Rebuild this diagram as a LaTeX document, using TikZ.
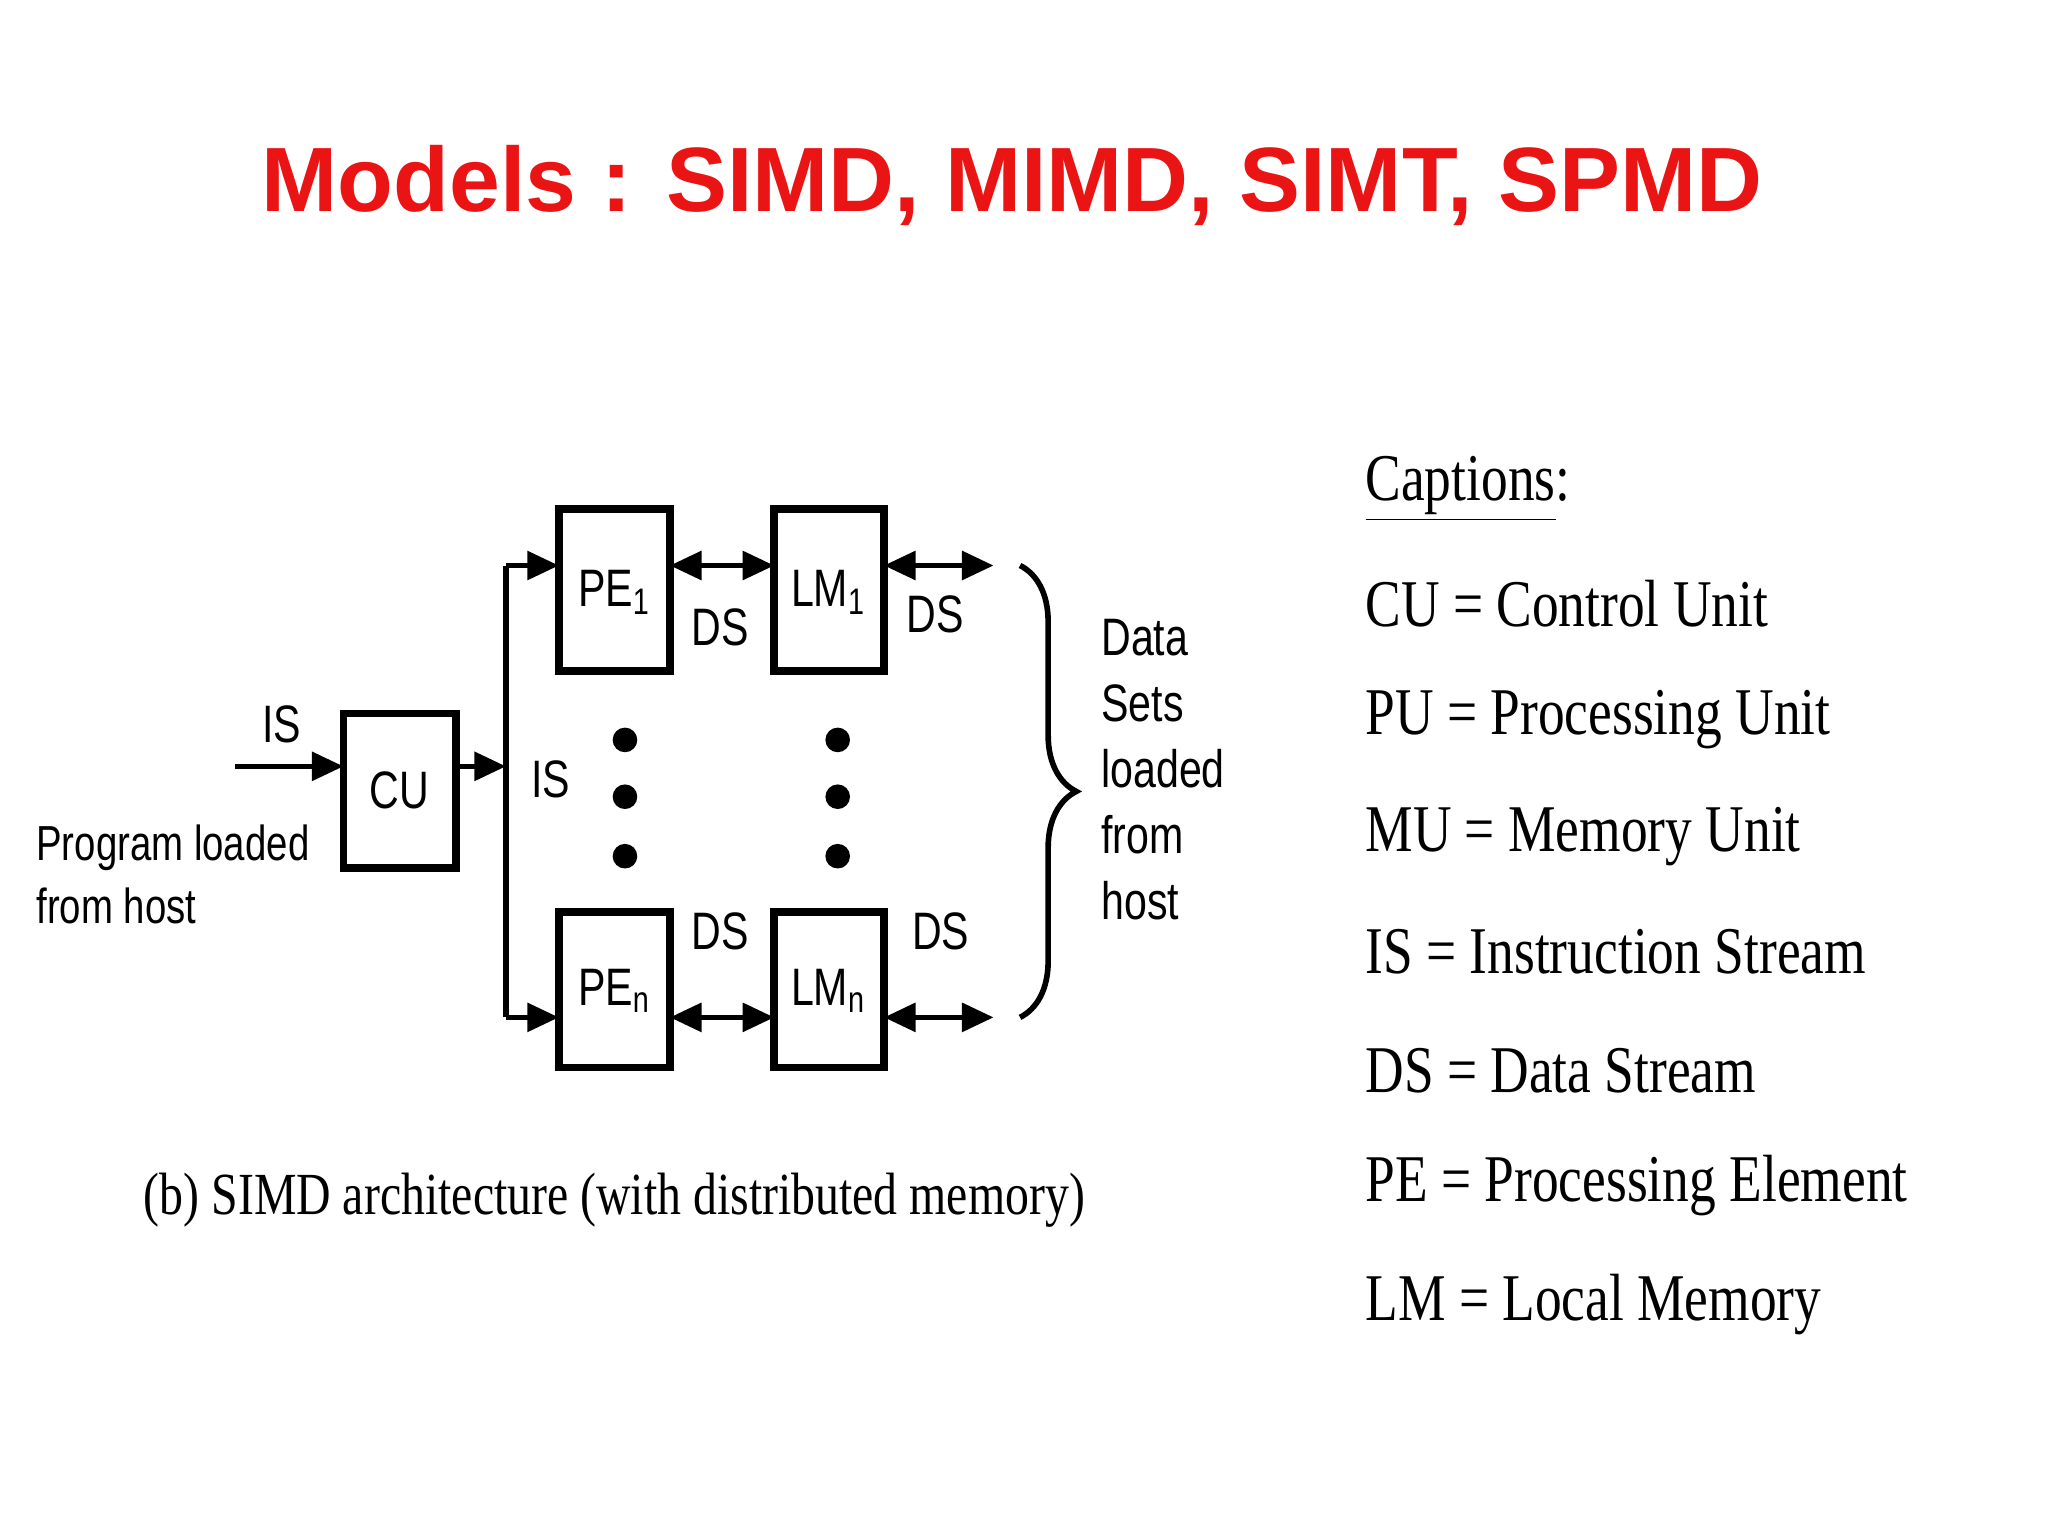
\documentclass[tikz,border=0pt]{standalone}
\usepackage{fontspec}
\setmainfont{Liberation Serif}
\newfontfamily\narrowsans[FakeStretch=0.78]{Liberation Sans}
\newfontfamily\narrowserif[FakeStretch=0.8]{Liberation Serif}
\newfontfamily\titlefont{Liberation Sans}
\usetikzlibrary{arrows.meta,decorations.pathreplacing}
\definecolor{titlered}{RGB}{235,20,20}
\begin{document}
\begin{tikzpicture}[x=0.013213cm,y=-0.013213cm,
  blk/.style={draw,line width=2.2pt,inner sep=0},
  lbl/.style={font=\narrowsans\fontsize{15}{17}\selectfont},
  captxt/.style={font=\narrowserif\fontsize{19}{21}\selectfont,anchor=west,inner sep=0},
  ar/.style={line width=1.6pt,-{Triangle[length=9pt,width=8pt]}},
  dar/.style={line width=1.6pt,{Triangle[length=9pt,width=8pt]}-{Triangle[length=9pt,width=8pt]}},
  dot/.style={fill,circle,inner sep=0,minimum size=7pt}]
\useasboundingbox (0,0) rectangle (1550,1162);
\node (title) at (766,140) {\titlefont\bfseries\color{titlered}\fontsize{26}{30}\selectfont Models : SIMD, MIMD, SIMT, SPMD};
% boxes
\draw[blk] (260,540) rectangle (345,657); \node[lbl] (cu) at (302,598) {CU};
\draw[blk] (423,385) rectangle (507,508); \node[lbl] (pe1) at (465,448) {PE\textsubscript{1}};
\draw[blk] (586,385) rectangle (669,508); \node[lbl] (lm1) at (627,448) {LM\textsubscript{1}};
\draw[blk] (423,690) rectangle (507,808); \node[lbl] (pen) at (465,750) {PE\textsubscript{n}};
\draw[blk] (586,690) rectangle (669,808); \node[lbl] (lmn) at (627,750) {LM\textsubscript{n}};
\coordinate (in) at (178,580);
\coordinate (cuin) at (260,580);
\draw[ar] (in) -- (cuin);
\node[lbl] (is1) at (213,548) {IS};
\node[lbl,align=left,anchor=west,inner sep=0,font=\narrowsans\fontsize{14}{18}\selectfont] (prog) at (27,662) {Program loaded\\from host};
\coordinate (cuout) at (345,580);
\coordinate (bus) at (383,580);
\draw[ar] (cuout) -- (bus);
\coordinate (bt) at (383,428); \coordinate (bb) at (383,770);
\coordinate (pe1in) at (423,428); \coordinate (penin) at (423,770);
\draw[ar] (bt) -- (pe1in);
\draw[ar] (bb) -- (penin);
\draw[line width=1.6pt] (bt) -- (bb);
\node[lbl] (is2) at (417,590) {IS};
\coordinate (a1) at (507,428); \coordinate (b1) at (586,428);
\coordinate (c1) at (669,428); \coordinate (d1) at (752,428);
\coordinate (a2) at (507,770); \coordinate (b2) at (586,770);
\coordinate (c2) at (669,770); \coordinate (d2) at (752,770);
\draw[dar] (a1) -- (b1); \draw[dar] (c1) -- (d1);
\draw[dar] (a2) -- (b2); \draw[dar] (c2) -- (d2);
\node[lbl] (ds1) at (545,475) {DS};
\node[lbl] (ds2) at (708,465) {DS};
\node[lbl] (ds3) at (545,705) {DS};
\node[lbl] (ds4) at (712,705) {DS};
\foreach \y [count=\i] in {560,603,648}{
  \node[dot] (p\i) at (473,\y) {};
  \node[dot] (q\i) at (634,\y) {};
}
\coordinate (br1) at (772,428); \coordinate (br2) at (772,770);
\draw[line width=1.6pt,decorate,decoration={brace,amplitude=16pt}] (br1) -- (br2);
\node[lbl,align=left,anchor=north west,inner sep=0,font=\narrowsans\fontsize{15}{18.8}\selectfont] (data) at (833,468) {Data\\Sets\\loaded\\from\\host};
\node (sub) at (465,908) {\narrowserif\fontsize{17}{19}\selectfont (b) SIMD architecture (with distributed memory)};
% captions
\node[captxt] (k0) at (1033,370) {\underline{Captions}:};
\node[captxt] (k1) at (1033,457) {CU = Control Unit};
\node[captxt] (k2) at (1033,545) {PU = Processing Unit};
\node[captxt] (k3) at (1033,633) {MU = Memory Unit};
\node[captxt] (k4) at (1033,720) {IS = Instruction Stream};
\node[captxt] (k5) at (1033,810) {DS = Data Stream};
\node[captxt] (k6) at (1033,897) {PE = Processing Element};
\node[captxt] (k7) at (1033,987) {LM = Local Memory};
\end{tikzpicture}
\end{document}
